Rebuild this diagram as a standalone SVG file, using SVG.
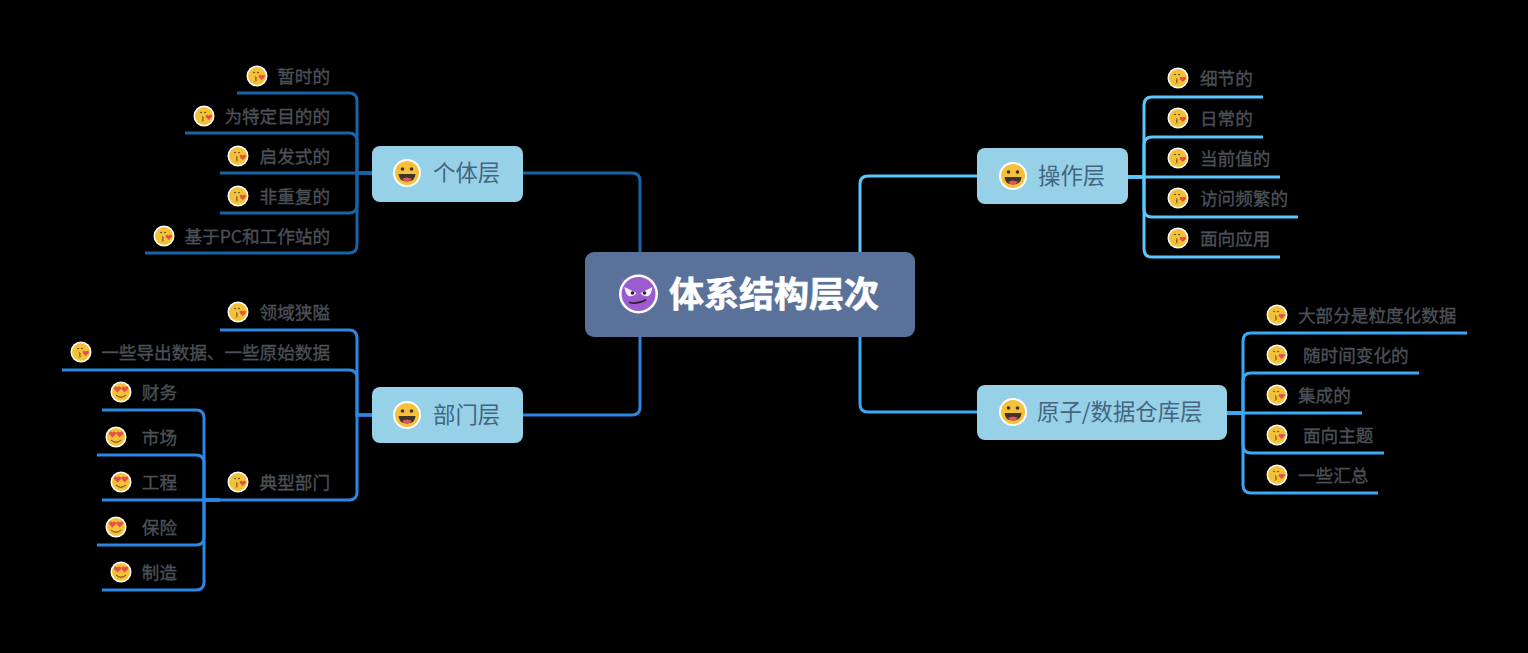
<svg xmlns="http://www.w3.org/2000/svg" width="1528" height="653" viewBox="0 0 1528 653">
<style>
text{font-family:"Noto Sans CJK SC","Noto Sans",sans-serif}
.leaf{font-size:17.6px;fill:#4b5058;stroke:#4b5058;stroke-width:.35}
.end{text-anchor:end}
.mid{font-size:22.4px;fill:#44657f}
.root{font-size:35px;font-weight:700;fill:#fff;stroke:#fff;stroke-width:.7}
.box{fill:#96d1e8}
.c{fill:none;stroke-width:3}
.c1{stroke:#1565a8}.c2{stroke:#2b87e3}.c3{stroke:#5ac8fa}.c4{stroke:#3ba8f5}
.ring{fill:#fff}.face{fill:#f4c138}.dk{fill:#3f3428}.ln{fill:none;stroke:#5a4120;stroke-width:1}.red{fill:#e8504a}
</style>
<defs>
<symbol id="kiss" viewBox="-11 -11 22 22" overflow="visible">
<circle class="ring" r="10.5"/><circle class="face" r="9"/>
<circle class="dk" cx="-3" cy="-3.5" r="0.8"/><circle class="dk" cx="1" cy="-3.5" r="0.8"/>
<path class="ln" d="M-2 0.5 Q0.5 1.5 -1.5 3 Q0.5 4 -2 5.5"/>
<path class="red" d="M4.7 4 L1.8 1 Q1.2 -1.2 3.2 -1.2 Q4.3 -1.2 4.8 -0.2 Q5.3 -1.2 6.4 -1.2 Q8.4 -1.2 7.8 1 Z"/>
</symbol>
<symbol id="love" viewBox="-11 -11 22 22" overflow="visible">
<circle class="ring" r="10.5"/><circle class="face" r="9"/>
<path class="red" d="M-3.5 0.5 L-7 -3 Q-7.4 -5.6 -5.2 -5.6 Q-4 -5.6 -3.5 -4.4 Q-3 -5.6 -1.8 -5.6 Q0.4 -5.6 0 -3 Z"/>
<path class="red" d="M3.5 0.5 L0.4 -3 Q0 -5.6 2.2 -5.6 Q3.4 -5.6 3.9 -4.4 Q4.4 -5.6 5.6 -5.6 Q7.8 -5.6 7.2 -3 Z"/>
<path class="ln" d="M-5 3 Q0 7.5 5 3"/>
</symbol>
<symbol id="grin" viewBox="-14 -14 28 28" overflow="visible">
<circle class="ring" r="14"/><circle class="face" r="12"/>
<circle class="dk" cx="-4.5" cy="-4" r="1.8"/><circle class="dk" cx="4.5" cy="-4" r="1.8"/>
<path class="dk" d="M-8.5 1 H8.5 Q8 8.5 0 8.5 Q-8 8.5 -8.5 1 Z"/>
<path fill="#e2536b" d="M-5 6 Q0 3 5 6 Q3 8.5 0 8.5 Q-3 8.5 -5 6 Z"/>
</symbol>
<symbol id="devil" viewBox="-20 -20 40 40" overflow="visible">
<path fill="#9b5ccf" d="M-17 -15 L-9 -14 L-15 -7 Z M17 -15 L9 -14 L15 -7 Z"/>
<circle class="ring" r="19.5"/><circle fill="#9b5ccf" r="17"/>
<path fill="#f4eef8" d="M-14 -7 L-2 -1 Q-5 3 -10 2 Q-13 0 -14 -7 Z M14 -7 L2 -1 Q5 3 10 2 Q13 0 14 -7 Z"/>
<circle cx="-6" cy="-1" r="1.8" fill="#2c2030"/><circle cx="6" cy="-1" r="1.8" fill="#2c2030"/>
<path d="M-9 8.5 Q0 10.5 7 6" fill="none" stroke="#2c2030" stroke-width="1.6" stroke-linecap="round"/>
</symbol>
</defs>
<rect width="1528" height="653" fill="#000"/>
<g id="connectors">
<path class="c c1" d="M523 173 H632 Q640 173 640 181 V252"/>
<path class="c c2" d="M523 415 H632 Q640 415 640 407 V337"/>
<path class="c c3" d="M977 176 H868 Q860 176 860 184 V252"/>
<path class="c c4" d="M977 412 H868 Q860 412 860 404 V337"/>

<path class="c c1" d="M372 173 H357 V101 Q357 93 349 93 H237"/>
<path class="c c1" d="M372 173 H357 V141 Q357 133 349 133 H185"/>
<path class="c c1" d="M372 173 H220"/>
<path class="c c1" d="M372 173 H357 V205 Q357 213 349 213 H220"/>
<path class="c c1" d="M372 173 H357 V245 Q357 253 349 253 H145"/>

<path class="c c2" d="M372 415 H357 V338 Q357 330 349 330 H220"/>
<path class="c c2" d="M372 415 H357 V378 Q357 370 349 370 H62"/>
<path class="c c2" d="M372 415 H357 V492 Q357 500 349 500 H220"/>
<path class="c c2" d="M220 500 H204 V418 Q204 410 196 410 H102"/>
<path class="c c2" d="M220 500 H204 V463 Q204 455 196 455 H97"/>
<path class="c c2" d="M220 500 H102"/>
<path class="c c2" d="M220 500 H204 V537 Q204 545 196 545 H97"/>
<path class="c c2" d="M220 500 H204 V582 Q204 590 196 590 H102"/>

<path class="c c3" d="M1128 177 H1144 V105 Q1144 97 1152 97 H1263"/>
<path class="c c3" d="M1128 177 H1144 V145 Q1144 137 1152 137 H1263"/>
<path class="c c3" d="M1128 177 H1280"/>
<path class="c c3" d="M1128 177 H1144 V209 Q1144 217 1152 217 H1298"/>
<path class="c c3" d="M1128 177 H1144 V249 Q1144 257 1152 257 H1280"/>

<path class="c c4" d="M1227 413 H1243 V341 Q1243 333 1251 333 H1467"/>
<path class="c c4" d="M1227 413 H1243 V381 Q1243 373 1251 373 H1419"/>
<path class="c c4" d="M1227 413 H1362"/>
<path class="c c4" d="M1227 413 H1243 V445 Q1243 453 1251 453 H1384"/>
<path class="c c4" d="M1227 413 H1243 V485 Q1243 493 1251 493 H1378"/>
</g>

<g id="root">
<rect x="585" y="252" width="330" height="85" rx="9" fill="#5a7199"/>
<use href="#devil" x="618.5" y="274" width="40" height="40"/>
<text class="root" x="669" y="307">体系结构层次</text>
</g>

<g id="n-geti"><rect class="box" x="372" y="146" width="151" height="56" rx="8"/><use href="#grin" x="393" y="159" width="28" height="28"/><text class="mid" x="433" y="181">个体层</text></g>
<g id="n-bumen"><rect class="box" x="372" y="387" width="151" height="56" rx="8"/><use href="#grin" x="393" y="401" width="28" height="28"/><text class="mid" x="433" y="423">部门层</text></g>
<g id="n-caozuo"><rect class="box" x="977" y="148" width="151" height="56" rx="8"/><use href="#grin" x="999" y="162" width="28" height="28"/><text class="mid" x="1038" y="184">操作层</text></g>
<g id="n-yuanzi"><rect class="box" x="977" y="385" width="250" height="55" rx="8"/><use href="#grin" x="999" y="398" width="28" height="28"/><text class="mid" x="1037" y="420">原子/数据仓库层</text></g>

<g id="l1"><use href="#kiss" x="246" y="65" width="22" height="22"/><text class="leaf end" x="330" y="83">暂时的</text></g>
<g id="l2"><use href="#kiss" x="193" y="105" width="22" height="22"/><text class="leaf end" x="330" y="123">为特定目的的</text></g>
<g id="l3"><use href="#kiss" x="227" y="145" width="22" height="22"/><text class="leaf end" x="330" y="163">启发式的</text></g>
<g id="l4"><use href="#kiss" x="227" y="185" width="22" height="22"/><text class="leaf end" x="330" y="203">非重复的</text></g>
<g id="l5"><use href="#kiss" x="153" y="225" width="22" height="22"/><text class="leaf end" x="330" y="243">基于PC和工作站的</text></g>

<g id="l6"><use href="#kiss" x="227" y="301" width="22" height="22"/><text class="leaf end" x="330" y="319">领域狭隘</text></g>
<g id="l7"><use href="#kiss" x="70" y="341" width="22" height="22"/><text class="leaf end" x="330" y="359">一些导出数据、一些原始数据</text></g>
<g id="l8"><use href="#kiss" x="227" y="471" width="22" height="22"/><text class="leaf end" x="330" y="489">典型部门</text></g>
<g id="l9"><use href="#love" x="110" y="381" width="22" height="22"/><text class="leaf end" x="177" y="399">财务</text></g>
<g id="l10"><use href="#love" x="105" y="426" width="22" height="22"/><text class="leaf end" x="177" y="444">市场</text></g>
<g id="l11"><use href="#love" x="110" y="471" width="22" height="22"/><text class="leaf end" x="177" y="489">工程</text></g>
<g id="l12"><use href="#love" x="105" y="516" width="22" height="22"/><text class="leaf end" x="177" y="534">保险</text></g>
<g id="l13"><use href="#love" x="110" y="561" width="22" height="22"/><text class="leaf end" x="177" y="579">制造</text></g>

<g id="r1"><use href="#kiss" x="1167" y="67" width="22" height="22"/><text class="leaf" x="1200" y="85">细节的</text></g>
<g id="r2"><use href="#kiss" x="1167" y="107" width="22" height="22"/><text class="leaf" x="1200" y="125">日常的</text></g>
<g id="r3"><use href="#kiss" x="1167" y="147" width="22" height="22"/><text class="leaf" x="1200" y="165">当前值的</text></g>
<g id="r4"><use href="#kiss" x="1167" y="187" width="22" height="22"/><text class="leaf" x="1200" y="205">访问频繁的</text></g>
<g id="r5"><use href="#kiss" x="1167" y="227" width="22" height="22"/><text class="leaf" x="1200" y="245">面向应用</text></g>

<g id="r6"><use href="#kiss" x="1266" y="304" width="22" height="22"/><text class="leaf" x="1298" y="322">大部分是粒度化数据</text></g>
<g id="r7"><use href="#kiss" x="1266" y="344" width="22" height="22"/><text class="leaf" x="1303" y="362">随时间变化的</text></g>
<g id="r8"><use href="#kiss" x="1266" y="384" width="22" height="22"/><text class="leaf" x="1298" y="402">集成的</text></g>
<g id="r9"><use href="#kiss" x="1266" y="424" width="22" height="22"/><text class="leaf" x="1303" y="442">面向主题</text></g>
<g id="r10"><use href="#kiss" x="1266" y="464" width="22" height="22"/><text class="leaf" x="1298" y="482">一些汇总</text></g>
</svg>
